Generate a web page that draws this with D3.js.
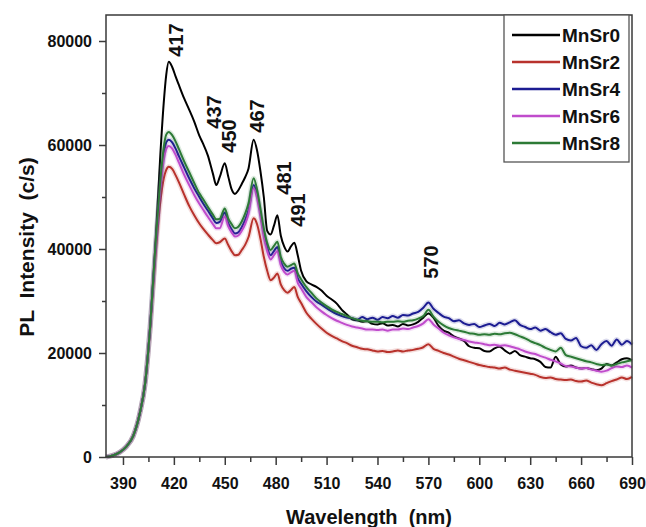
<!DOCTYPE html>
<html><head><meta charset="utf-8">
<script src="https://cdn.jsdelivr.net/npm/d3@7"></script>
<style>
html,body{margin:0;padding:0;background:#fff;}
svg{display:block;font-family:"Liberation Sans",Arial,Helvetica,sans-serif;}
</style></head><body>
<svg id="chart" width="646" height="527"></svg>
<script>
// Emission wavelengths (nm), shared by every spectrum
const wavelengths = [
  380,384,388,392,396,400,403,406,409,412,414,415.5,417,
  419,421,423,426,429,432,435,437,440,443,445,447,450,452,454,456,458,460,462,464,467,469,471,473,475,477,479,481,483,485,487,489,491,493,495,498,
  501,504,507,510,513,516,519,522,525,528,531,534,537,540,543,546,549,552,555,558,561,564,567,570,573,576,579,582,585,588,591,594,597,600,
  603,606,609,612,615,618,621,624,627,630,633,636,639,642,645,648,651,654,657,660,663,666,669,672,675,678,681,684,687,690
];

// PL intensity (c/s) for each sample
const mnsr0 = [
  0,300,900,2000,4000,8500,14000,25000,40000,58000,68000,73500,76000,
  75000,73200,71500,69000,66800,64500,61800,60400,58000,54500,52300,53800,56500,54000,51500,50600,51300,52500,53800,55500,61000,59000,55000,50000,43500,42800,44500,46500,42600,40500,39500,40500,41200,38800,35800,33800,
  33200,32700,32000,31000,30300,29500,28300,27400,26500,26300,26000,26100,25600,25500,25700,25300,25400,25100,25600,25300,25500,26000,26800,27600,26800,25200,24300,23900,23200,22800,22300,21300,21000,20900,
  20400,20300,20900,21200,20500,19900,20400,19600,19300,19000,18800,18300,17300,17200,19300,17800,17400,17600,17200,17000,17100,16900,16700,17000,17900,17600,18200,18800,19000,18600
];
const mnsr2 = [
  0,300,900,2000,4000,8500,14000,24500,38000,49000,53500,55200,55800,
  55400,54200,52800,50500,48300,46500,44900,44000,42800,41700,41100,41300,42000,40800,39600,38800,38900,39800,40800,42300,45900,44800,42000,38500,35800,34000,34500,35300,33200,32100,31600,32100,32700,30800,29600,27800,
  26600,25600,24700,23900,23300,22800,22300,21900,21400,21100,20800,20700,20500,20300,20400,20200,20300,20500,20300,20500,20600,20800,21100,21700,20800,20400,20000,19700,19300,18900,18600,18300,18000,17700,
  17500,17300,17200,17000,17200,16800,16600,16400,16200,16000,15800,15400,15200,15300,15000,14900,14800,14900,14600,14500,14700,14300,14000,13800,14200,14600,14900,15300,15000,15400
];
const mnsr4 = [
  0,300,900,2000,4000,8500,14000,25000,39500,52000,58000,60500,61000,
  60500,59300,57800,55700,53600,51700,50000,48900,47400,45900,45000,45200,47000,45000,43800,43000,43200,44200,45600,47500,52300,50500,47000,43000,40300,38800,39600,40400,37700,36300,35800,36200,36400,34400,33300,31900,
  30800,29900,29300,28600,28000,27500,27100,26800,26700,26400,26900,26500,26800,26400,26900,26700,27100,26800,27300,27200,27600,27900,28700,29700,28500,27700,27000,26700,26100,26300,25700,25400,25600,25000,
  25300,25600,25200,25800,25500,25900,26300,25400,25000,24600,24900,24300,24600,24000,23500,23800,22700,22400,22900,21300,21000,21500,20600,21700,22300,21400,22600,21600,22300,21600
];
const mnsr6 = [
  0,300,900,2000,4000,8500,14000,25000,39000,51500,57000,59200,59800,
  59300,58100,56600,54300,52300,50400,48700,47700,46200,44800,44000,44000,46300,44400,43200,42400,42600,43500,44800,46800,51700,49800,46200,42200,39600,38000,38800,39600,36900,35600,35100,35500,35800,33500,32400,30800,
  29800,28800,28000,27300,26700,26200,25800,25400,25100,24900,24700,24500,24500,24400,24500,24300,24500,24500,24700,24600,24900,25200,25700,26500,25500,24700,23900,23400,23000,22700,22500,22200,22000,21900,
  21700,21500,21600,21400,21500,21300,21000,20700,20300,20000,19800,19400,19100,18700,18400,18000,17500,17400,17200,17000,17100,16800,16600,16400,16600,17100,17400,17300,17600,17200
];
const mnsr8 = [
  0,300,900,2000,4000,8500,14000,25000,40000,53000,59500,62000,62500,
  61900,60700,59200,56900,54800,52700,50700,49700,48100,46600,45700,45800,47800,45900,44800,44000,44300,45300,46800,48800,53600,51500,47800,44000,41200,39800,40600,41400,38500,37200,36600,36900,37200,35300,34200,32700,
  31600,30500,29700,29000,28400,27900,27500,27100,26700,26400,26200,26100,26000,26000,25900,26000,26000,26100,26000,26200,26300,26600,27100,28300,27000,26000,25300,24800,24500,24300,24100,23800,23700,23500,
  23600,23500,23700,23600,23800,23900,23600,23200,22800,22300,21900,21500,21000,20600,20300,21000,19600,19300,19000,18700,18400,18200,17900,17700,17800,17600,17900,18200,18400,18600
];

const seriesNames = ["MnSr0", "MnSr2", "MnSr4", "MnSr6", "MnSr8"];
const seriesValues = [mnsr0, mnsr2, mnsr4, mnsr6, mnsr8];
const seriesColors = ["#000000", "#b8322c", "#1c1c92", "#c04ccc", "#2c7a36"];

const xTicks = [390, 420, 450, 480, 510, 540, 570, 600, 630, 660, 690];
const xMinorTicks = [405, 435, 465, 495, 525, 555, 585, 615, 645, 675];
const yTicks = [0, 20000, 40000, 60000, 80000];
const yMinorTicks = [10000, 30000, 50000, 70000];
const peakLabels = ["417", "437", "450", "467", "481", "491", "570"];

// label placement: horizontal nudge from the peak and vertical centre (px)
const peakLabelPlacement = {
  "417": [7, 40], "437": [11, 112], "450": [4, 136], "467": [3, 116],
  "481": [6, 178], "491": [3, 210], "570": [2, 262]
};

const svg = d3.select("#chart");
const plot = {left: 106, right: 632, top: 15, bottom: 457};

const x = d3.scaleLinear().domain([380, 690]).range([plot.left, plot.right]);
const y = d3.scaleLinear().domain([0, 85000]).range([plot.bottom, plot.top]);

svg.append("rect").attr("width", 646).attr("height", 527).attr("fill", "#fff");

// spectra
const line = d3.line()
  .x((d, i) => x(wavelengths[i]))
  .y(d => y(d))
  .curve(d3.curveMonotoneX);

const curves = svg.append("g");
seriesValues.forEach((vals, k) => {
  if (k > 0) {
    curves.append("path")
      .attr("d", line(vals))
      .attr("fill", "none")
      .attr("stroke", seriesColors[k])
      .attr("stroke-opacity", 0.16)
      .attr("stroke-width", 5)
      .attr("stroke-linejoin", "round");
  }
  curves.append("path")
    .attr("d", line(vals))
    .attr("fill", "none")
    .attr("stroke", seriesColors[k])
    .attr("stroke-width", 2)
    .attr("stroke-linejoin", "round");
});

// frame
svg.append("rect")
  .attr("x", plot.left).attr("y", plot.top)
  .attr("width", plot.right - plot.left).attr("height", plot.bottom - plot.top)
  .attr("fill", "none").attr("stroke", "#3a3a3a").attr("stroke-width", 1.5);

// axes
const tickFont = g => g.selectAll("text")
  .attr("font-size", 16).attr("font-weight", "bold").attr("fill", "#111");

const xAxis = svg.append("g")
  .attr("transform", `translate(0,${plot.bottom})`)
  .call(d3.axisBottom(x).tickValues(xTicks).tickFormat(d3.format("d"))
    .tickSize(8).tickSizeOuter(0).tickPadding(13))
  .call(tickFont);
xAxis.select(".domain").remove();
xAxis.selectAll("line").attr("stroke", "#3a3a3a").attr("stroke-width", 1.5);

const xMinor = svg.append("g")
  .attr("transform", `translate(0,${plot.bottom})`)
  .call(d3.axisBottom(x).tickValues(xMinorTicks).tickFormat("").tickSize(5).tickSizeOuter(0));
xMinor.select(".domain").remove();
xMinor.selectAll("line").attr("stroke", "#3a3a3a").attr("stroke-width", 1.5);

const yAxis = svg.append("g")
  .attr("transform", `translate(${plot.left},0)`)
  .call(d3.axisLeft(y).tickValues(yTicks).tickFormat(d3.format("d"))
    .tickSize(7).tickSizeOuter(0).tickPadding(7))
  .call(tickFont);
yAxis.select(".domain").remove();
yAxis.selectAll("line").attr("stroke", "#3a3a3a").attr("stroke-width", 1.5);

const yMinor = svg.append("g")
  .attr("transform", `translate(${plot.left},0)`)
  .call(d3.axisLeft(y).tickValues(yMinorTicks).tickFormat("").tickSize(4).tickSizeOuter(0));
yMinor.select(".domain").remove();
yMinor.selectAll("line").attr("stroke", "#3a3a3a").attr("stroke-width", 1.5);

// axis titles
svg.append("text")
  .attr("x", (plot.left + plot.right) / 2).attr("y", 524)
  .attr("text-anchor", "middle")
  .attr("font-size", 20).attr("font-weight", "bold").attr("fill", "#111")
  .attr("xml:space", "preserve").style("white-space", "pre")
  .text("Wavelength  (nm)");

svg.append("text")
  .attr("transform", "translate(34,247) rotate(-90)")
  .attr("text-anchor", "middle")
  .attr("font-size", 21).attr("font-weight", "bold").attr("fill", "#111")
  .style("white-space", "pre")
  .text("PL  Intensity  (c/s)");

// peak annotations
svg.append("g").selectAll("text")
  .data(peakLabels)
  .join("text")
  .attr("transform", d => {
    const p = peakLabelPlacement[d];
    return `translate(${x(+d) + p[0]},${p[1]}) rotate(-90)`;
  })
  .attr("text-anchor", "middle")
  .attr("dy", "0.36em")
  .attr("font-size", 20).attr("font-weight", "bold").attr("fill", "#111")
  .text(d => d);

// legend
const legend = svg.append("g");
legend.append("rect")
  .attr("x", 504).attr("y", plot.top).attr("width", 125).attr("height", 147)
  .attr("fill", "#fff").attr("stroke", "#555").attr("stroke-width", 1.3);
seriesNames.forEach((name, k) => {
  const ry = 35 + k * 27;
  legend.append("line")
    .attr("x1", 512).attr("x2", 560).attr("y1", ry).attr("y2", ry)
    .attr("stroke", seriesColors[k]).attr("stroke-width", 2.5);
  legend.append("text")
    .attr("x", 562).attr("y", ry).attr("dy", "0.36em")
    .attr("font-size", 19).attr("font-weight", "bold").attr("fill", "#111")
    .text(name);
});
</script>
</body></html>
